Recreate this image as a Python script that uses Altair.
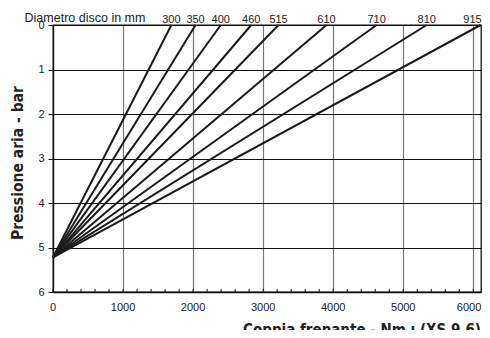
import altair as alt
import pandas as pd

# ---- data ----
diametri = [300, 350, 400, 460, 515, 610, 710, 810, 915]          # disc diameter, mm
coppia_a_zero = [1690, 2035, 2395, 2830, 3220, 3905, 4620, 5335, 6105]  # torque where line reaches 0 bar
origine_coppia = 0
origine_pressione = 5.22
x_ticks = [0, 1000, 2000, 3000, 4000, 5000, 6000]
y_ticks = [0, 1, 2, 3, 4, 5, 6]
minor_ticks = list(range(0, 6001, 200))

rows = []
for d, t in zip(diametri, coppia_a_zero):
    rows.append({"diam": d, "coppia": origine_coppia, "pressione": origine_pressione})
    rows.append({"diam": d, "coppia": t, "pressione": 0})
lines_df = pd.DataFrame(rows)
labels_df = pd.DataFrame({"diam": [str(d) for d in diametri[:-1]], "coppia": coppia_a_zero[:-1]})
last_label_df = pd.DataFrame({"diam": [str(diametri[-1])], "coppia": [coppia_a_zero[-1]]})
minor_df = pd.DataFrame({"coppia": minor_ticks, "p1": [6] * len(minor_ticks), "p2": [5.93] * len(minor_ticks)})
xlab_df = pd.DataFrame({"v": x_ticks[:-1], "t": [str(v) for v in x_ticks[:-1]]})
xlab_last_df = pd.DataFrame({"v": x_ticks[-1:], "t": [str(v) for v in x_ticks[-1:]]})

W, H = 428, 267
LABEL_FONT = "Liberation Sans, Arial, sans-serif"
TITLE_FONT = "'Liberation Sans Narrow', 'DejaVu Sans Condensed', 'Roboto Condensed', Roboto, sans-serif"

xscale = alt.Scale(domain=[0, 6110], nice=False, zero=False)
yscale = alt.Scale(domain=[0, 6], reverse=True, nice=False)

lines = alt.Chart(lines_df).mark_line(color="#1a1a1a", strokeWidth=2).encode(
    x=alt.X("coppia:Q", scale=xscale,
            axis=alt.Axis(values=x_ticks, title=None, grid=True, gridColor="#777777",
                          gridWidth=1.2, ticks=False, labels=False, domainColor="#111",
                          domainWidth=1.3)),
    y=alt.Y("pressione:Q", scale=yscale,
            axis=alt.Axis(values=y_ticks, title=None, grid=True, gridColor="#111111",
                          gridWidth=1.1, tickSize=5, tickColor="#111", labelPadding=4,
                          labelFont=LABEL_FONT, labelFontSize=11, labelColor="#222",
                          domainColor="#111", domainWidth=1.3)),
    detail="diam:N",
)

minor = alt.Chart(minor_df).mark_rule(color="#111", strokeWidth=1).encode(
    x=alt.X("coppia:Q", scale=xscale), y=alt.Y("p1:Q", scale=yscale), y2="p2:Q"
)

xlabels = alt.Chart(xlab_df).mark_text(
    baseline="middle", align="center", font=LABEL_FONT, fontSize=11, color="#222"
).encode(x=alt.X("v:Q", scale=xscale), y=alt.value(H + 16), text="t:N")

xlabel_last = alt.Chart(xlab_last_df).mark_text(
    baseline="middle", align="right", font=LABEL_FONT, fontSize=11, color="#222", dx=8
).encode(x=alt.X("v:Q", scale=xscale), y=alt.value(H + 16), text="t:N")

top_labels = alt.Chart(labels_df).mark_text(
    baseline="alphabetic", align="center", font=LABEL_FONT, fontSize=11, color="#222", dy=-2
).encode(x=alt.X("coppia:Q", scale=xscale), y=alt.value(0), text="diam:N")

last_label = alt.Chart(last_label_df).mark_text(
    baseline="alphabetic", align="right", font=LABEL_FONT, fontSize=11, color="#222", dy=-2, dx=1
).encode(x=alt.X("coppia:Q", scale=xscale), y=alt.value(0), text="diam:N")

diam_title = alt.Chart(pd.DataFrame({"t": ["Diametro disco in mm"]})).mark_text(
    align="center", baseline="alphabetic", font=LABEL_FONT, fontSize=12.5, color="#222"
).encode(x=alt.value(32), y=alt.value(-3), text="t:N")

x_title = alt.Chart(pd.DataFrame({"t": ["Coppia frenante - Nm ı (XS 9.6)"]})).mark_text(
    align="right", baseline="alphabetic", font=TITLE_FONT, fontSize=15, fontWeight="bold", color="#222"
).encode(x=alt.value(W), y=alt.value(H + 43), text="t:N")

y_title = alt.Chart(pd.DataFrame({"t": ["Pressione aria - bar"]})).mark_text(
    align="center", baseline="middle", font=TITLE_FONT, fontSize=15.5, fontWeight="bold",
    color="#222", angle=270
).encode(x=alt.value(-35), y=alt.value(138), text="t:N")

chart = alt.layer(lines, minor, xlabels, xlabel_last, top_labels, last_label,
                  diam_title, x_title, y_title).properties(
    width=W, height=H,
    autosize=alt.AutoSizeParams(type="none"),
    padding={"left": 45, "top": 17, "right": 1, "bottom": 38},
    background="white",
).configure_view(stroke="#111", strokeWidth=1.3)

chart.save("out.html", embed_options={"renderer": "svg", "actions": False})
